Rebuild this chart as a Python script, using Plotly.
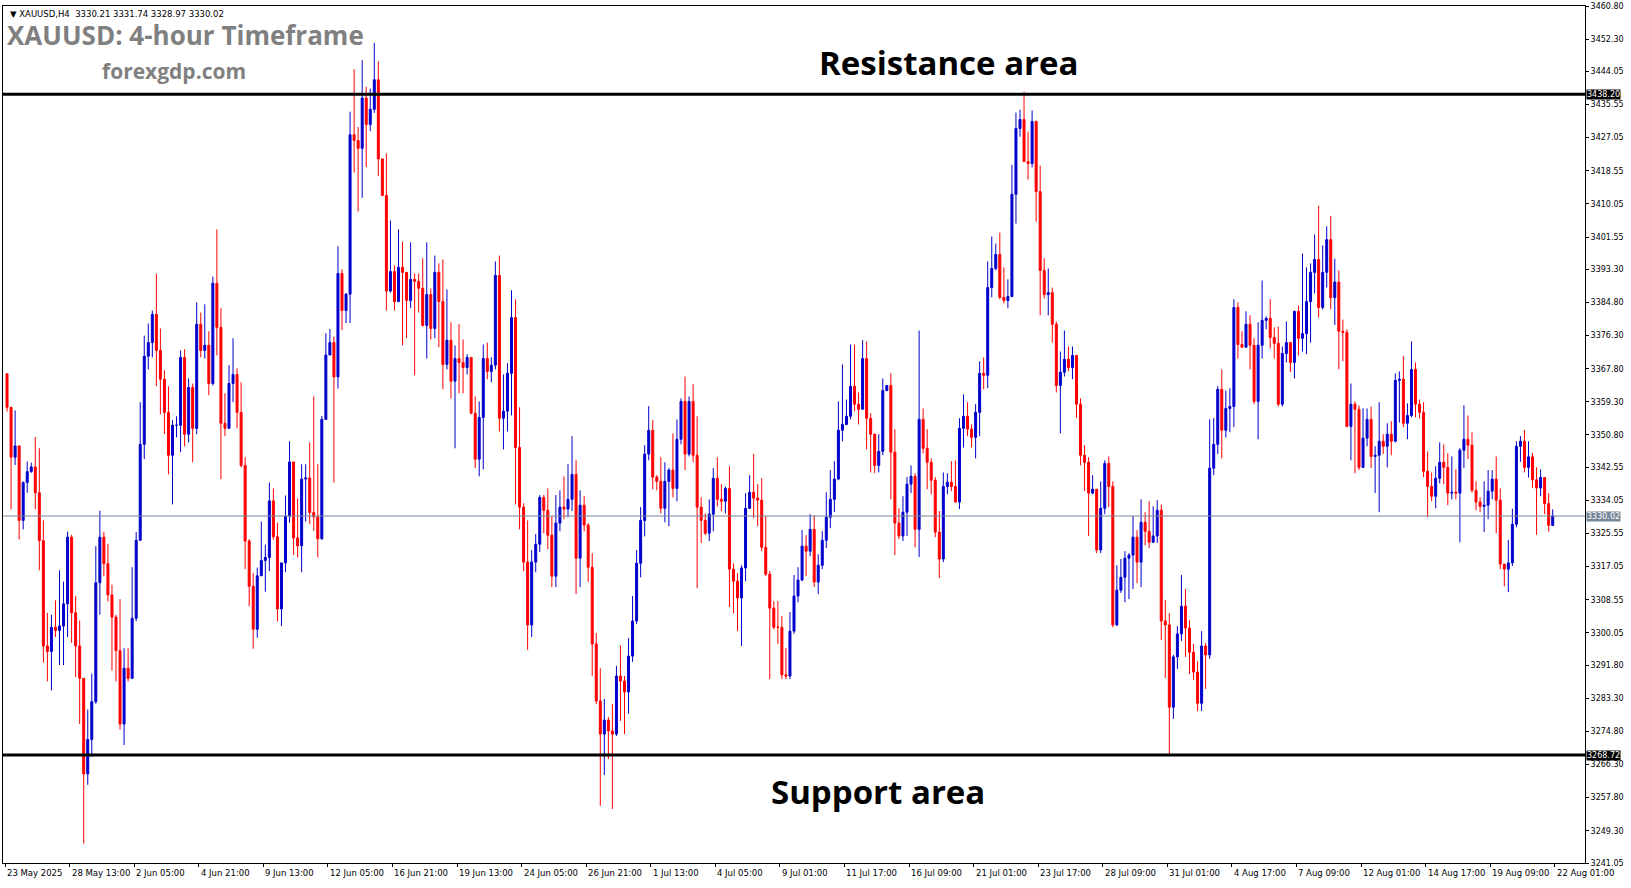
import plotly.graph_objects as go

first_open = 3366.5
close = [
3357.9,3345.1,3348.0,3328.9,3338.6,3341.4,3342.6,3336.0,3323.7,3296.7,3295.3,3301.5,3300.7,3301.8,3307.5,3324.6,
3305.2,3296.7,3288.4,3263.9,3272.7,3282.4,3312.9,3324.6,3317.8,3309.8,3304.1,3295.5,3276.7,3291.0,3288.4,
3303.8,3323.8,3348.4,3371.0,3374.5,3381.7,3372.5,3365.1,3356.6,3345.6,3353.3,3353.3,3370.7,3351.0,3363.0,3352.5,
3379.2,3372.5,3373.8,3364.0,3389.7,3378.4,3353.8,3352.5,3364.0,3366.3,3356.6,3343.0,3323.6,3312.0,3301.0,
3314.7,3318.6,3319.4,3333.9,3324.7,3306.2,3318.0,3330.0,3343.9,3324.4,3322.4,3339.5,3339.8,3330.9,3329.8,3324.2,
3354.8,3371.3,3374.5,3365.7,3392.2,3382.7,3386.9,3427.8,3426.3,3424.3,3437.2,3430.4,3434.3,3441.9,3421.6,3412.2,3387.7,
3392.7,3385.0,3393.8,3392.5,3385.3,3390.7,3390.2,3388.4,3378.9,3386.8,3378.1,3392.5,3385.0,3368.9,3375.1,3364.6,
3370.4,3369.4,3368.1,3370.7,3356.4,3344.6,3355.3,3370.4,3367.1,3368.7,3391.7,3355.1,3356.9,3366.6,3380.9,
3347.6,3332.3,3318.2,3302.1,3318.2,3322.8,3334.8,3331.5,3325.1,3314.6,3328.2,3332.3,3331.8,3334.3,3340.7,3319.2,
3332.8,3327.7,3316.9,3297.2,3282.6,3274.1,3277.7,3274.9,3274.1,3289.0,3287.7,3284.9,3294.1,
3303.1,3317.9,3328.9,3345.9,3352.0,3340.0,3338.9,3332.0,3338.9,3341.8,3337.1,3349.7,3359.4,3345.9,3359.4,3345.6,
3332.3,3328.9,3325.6,3330.5,3339.7,3334.3,3333.8,3337.1,3316.4,3313.3,3309.0,3316.7,3332.0,3336.1,3334.6,
3334.1,3322.0,3315.1,3306.4,3301.5,3301.5,3289.3,3289.0,3300.5,3309.5,3313.6,3322.3,3321.0,3326.6,3313.1,3317.4,
3323.8,3329.7,3334.3,3339.5,3352.0,3353.5,3355.6,3363.3,3358.7,3357.4,3370.4,3355.1,3351.0,3343.0,3346.6,3362.2,3363.5,
3346.4,3328.2,3324.9,3331.0,3338.2,3340.2,3326.6,3354.8,3347.4,3343.8,3339.2,3325.9,3319.0,3337.6,3338.7,3337.6,
3333.6,3352.5,3355.6,3352.3,3350.2,3356.6,3366.6,3366.1,3388.6,3393.5,3397.1,3386.1,3385.3,3386.3,3412.5,
3429.4,3431.7,3420.9,3420.4,3431.2,3413.2,3393.0,3386.8,3387.3,3379.2,
3363.5,3366.9,3370.2,3368.1,3371.2,3358.7,3345.6,3343.8,3335.9,3336.9,3321.3,3332.0,3343.5,3337.6,3302.1,3311.0,
3314.3,3319.2,3320.0,3324.6,3318.2,3328.4,
3326.1,3323.3,3324.9,3331.5,3303.1,3302.1,3281.0,3293.9,3299.8,3306.9,3301.3,3295.1,3290.0,3282.0,3296.7,3294.4,
3342.3,3348.4,3362.5,3352.0,3357.6,3358.1,3383.5,3374.0,3373.3,3379.2,3373.8,3359.4,3373.8,3380.2,3380.7,3375.8,
3374.3,3358.7,3371.7,3374.5,3369.4,3382.5,3375.6,3376.8,3385.0,3392.5,3395.8,3383.5,3392.5,3400.9,
3386.0,3390.0,3377.4,3377.1,3353.0,3358.7,3357.4,3342.5,3350.0,3354.8,3345.3,3345.6,3349.2,3347.9,3351.0,3349.2,
3364.8,3365.1,3353.8,3355.8,3367.6,3358.7,3356.6,3341.5,3337.6,3335.1,3339.7,3343.8,3342.5,3335.9,3336.1,3335.9,
3346.9,3349.7,3348.2,3336.6,3333.6,3332.5,3332.8,3336.4,3339.5,3334.1,3317.7,3316.4,
3318.0,3327.9,3347.9,3349.2,3342.5,3345.2,3339.3,3337.2,3339.9,3333.2,3327.6,3330.02,
]
high = [
3366.5,3356.5,3357.1,3348.0,3338.9,3344.0,3343.7,3350.3,3347.4,3328.9,3305.2,3304.7,3308.4,3316.1,3313.2,3326.0,
3325.2,3309.5,3303.2,3288.4,3280.4,3289.6,3322.3,3331.4,3326.0,3322.9,3312.4,3304.7,3308.7,3296.1,3296.1,
3316.9,3325.9,3359.2,3376.3,3379.4,3382.7,3392.2,3378.1,3367.4,3363.3,3354.6,3355.6,3372.5,3372.8,3365.3,3364.0,
3384.8,3382.2,3384.3,3377.4,3391.4,3403.5,3383.3,3361.5,3368.7,3375.6,3367.9,3364.3,3345.1,3324.1,3315.4,
3316.8,3328.6,3322.7,3338.6,3337.1,3328.3,3318.0,3335.3,3349.2,3343.9,3334.5,3343.3,3343.3,3348.9,3360.7,3343.3,
3355.7,3376.9,3378.0,3376.0,3399.2,3393.3,3387.2,3433.7,3444.6,3429.8,3446.9,3440.1,3439.6,3451.3,3446.6,3421.6,3423.0,
3405.8,3394.3,3403.5,3400.4,3392.5,3400.2,3392.2,3392.2,3396.1,3400.2,3388.4,3396.8,3394.8,3395.8,3388.1,3379.7,
3373.8,3379.2,3375.3,3371.5,3370.4,3360.7,3359.4,3374.0,3374.5,3370.7,3395.3,3396.8,3366.3,3369.2,3387.9,
3385.6,3357.9,3333.3,3328.9,3321.3,3325.4,3335.4,3335.4,3337.1,3330.0,3335.4,3336.6,3340.2,3343.3,3350.5,3344.3,
3336.6,3335.1,3328.2,3320.5,3300.0,3291.0,3283.1,3278.5,3281.8,3291.6,3296.9,3289.0,3298.7,
3309.5,3321.3,3332.3,3348.2,3358.2,3354.6,3340.5,3345.1,3343.8,3342.3,3351.2,3354.8,3360.2,3365.8,3360.7,3363.8,
3355.6,3334.8,3330.7,3334.3,3342.3,3345.1,3338.2,3337.6,3342.8,3317.9,3315.4,3317.4,3335.9,3340.5,3345.9,
3338.2,3339.7,3330.0,3315.9,3308.2,3308.2,3304.4,3296.2,3305.4,3314.9,3316.9,3326.4,3325.1,3330.5,3330.2,3320.2,
3326.1,3336.1,3341.8,3344.1,3359.4,3368.9,3359.9,3374.0,3374.0,3361.7,3375.1,3374.8,3356.4,3351.2,3351.0,3365.3,3363.5,
3366.6,3352.3,3332.0,3335.1,3340.0,3343.0,3341.0,3377.6,3357.6,3352.3,3344.8,3340.0,3331.3,3341.2,3341.0,3344.1,
3344.3,3355.1,3361.2,3359.2,3353.5,3358.7,3369.7,3370.7,3395.3,3401.7,3399.9,3402.7,3393.8,3390.7,3420.1,
3433.5,3434.2,3438.8,3428.6,3434.0,3431.4,3419.9,3396.1,3393.5,3388.6,
3379.9,3372.2,3377.6,3373.5,3373.5,3371.0,3360.2,3348.2,3345.1,3340.5,3336.9,3338.9,3344.3,3345.3,3338.9,3317.4,
3319.0,3321.0,3320.5,3330.0,3326.4,3334.3,
3331.0,3333.8,3332.5,3334.1,3333.0,3308.5,3305.1,3294.4,3301.8,3314.9,3311.3,3303.3,3297.2,3292.8,3300.5,3297.5,
3354.8,3355.1,3363.3,3367.6,3362.2,3362.8,3385.6,3384.8,3377.4,3382.5,3381.5,3375.6,3379.7,3390.4,3381.2,3385.6,
3378.4,3378.6,3373.5,3379.9,3374.5,3382.7,3384.0,3397.3,3393.8,3394.8,3402.2,3409.6,3399.4,3404.3,
3407.0,3396.0,3393.0,3380.4,3377.9,3364.0,3359.4,3358.4,3357.6,3357.6,3358.1,3347.9,3359.2,3351.0,3353.8,3354.3,
3366.6,3367.1,3371.0,3358.9,3374.8,3369.4,3359.9,3359.2,3346.6,3341.2,3342.8,3348.9,3348.4,3346.1,3345.3,3342.0,
3347.4,3358.4,3355.8,3351.5,3338.9,3334.8,3338.9,3341.8,3341.8,3345.3,3337.1,3317.7,
3323.9,3331.9,3349.2,3350.5,3352.1,3349.2,3346.2,3342.5,3342.0,3339.9,3335.9,3331.74,
]
low = [
3356.8,3331.7,3343.1,3324.0,3326.6,3336.0,3341.1,3331.7,3316.1,3292.4,3287.6,3285.3,3299.0,3291.8,3291.8,3299.0,
3297.5,3288.7,3276.7,3246.0,3261.1,3268.2,3281.9,3304.7,3314.6,3308.1,3290.4,3287.6,3275.3,3271.3,3287.6,
3295.9,3303.1,3323.8,3344.6,3367.6,3370.7,3363.3,3356.1,3351.0,3340.7,3333.0,3350.2,3346.4,3347.9,3348.9,3343.8,
3351.0,3370.7,3370.4,3361.0,3363.5,3371.2,3339.5,3350.5,3353.0,3359.2,3352.5,3342.5,3316.4,3306.9,3296.0,
3298.8,3314.7,3310.6,3315.9,3323.9,3303.0,3301.8,3315.6,3328.3,3320.0,3319.4,3315.6,3328.6,3328.0,3326.2,3319.4,
3323.9,3356.0,3371.6,3338.6,3362.7,3377.7,3379.5,3379.5,3418.1,3408.1,3411.6,3419.5,3428.7,3433.4,3417.2,3412.2,3382.7,
3387.3,3382.7,3385.6,3373.8,3375.6,3383.3,3366.1,3382.2,3378.6,3370.4,3375.3,3375.6,3373.3,3362.5,3367.6,3360.2,
3347.4,3361.5,3361.5,3366.3,3356.1,3342.3,3340.2,3342.0,3365.1,3364.3,3367.6,3351.7,3347.1,3351.7,3355.8,
3333.0,3326.6,3315.9,3295.7,3299.0,3315.6,3320.8,3325.6,3321.5,3311.8,3311.8,3326.1,3329.2,3329.7,3331.3,3310.0,
3311.8,3326.1,3313.1,3289.0,3281.8,3255.7,3263.6,3267.7,3254.9,3273.6,3277.5,3274.1,3279.3,
3292.6,3302.3,3314.3,3324.8,3344.3,3336.9,3336.6,3330.7,3328.4,3327.4,3334.8,3333.8,3348.4,3341.8,3345.3,3343.8,
3311.5,3323.1,3325.1,3323.6,3326.1,3332.5,3331.3,3330.7,3306.7,3305.1,3300.5,3296.7,3313.3,3331.8,3329.5,
3327.4,3321.0,3314.6,3288.2,3301.0,3297.2,3288.2,3288.2,3288.2,3299.8,3307.9,3313.3,3314.6,3319.7,3311.8,3310.0,
3316.4,3321.8,3326.9,3331.0,3339.2,3349.2,3353.3,3354.8,3356.9,3353.5,3357.4,3347.1,3341.2,3341.0,3341.2,3345.6,3362.0,
3334.3,3320.0,3324.1,3323.6,3324.9,3335.9,3322.0,3319.5,3346.1,3336.9,3335.6,3324.6,3314.1,3318.2,3335.6,3336.4,
3333.6,3331.8,3347.6,3350.5,3347.6,3344.8,3350.5,3362.5,3362.8,3386.1,3393.0,3385.6,3384.5,3383.3,3386.1,
3405.0,3427.3,3420.9,3416.3,3419.4,3405.5,3381.5,3385.8,3381.5,3374.5,
3361.7,3351.2,3365.8,3367.1,3365.1,3355.1,3343.0,3336.4,3324.9,3335.6,3320.5,3320.5,3330.5,3332.3,3301.5,3301.8,
3310.3,3307.9,3308.7,3311.3,3312.8,3311.8,
3322.5,3321.8,3323.1,3323.1,3298.2,3288.5,3268.7,3278.0,3290.8,3298.0,3293.9,3289.5,3288.0,3280.0,3280.0,3285.7,
3293.4,3340.5,3345.9,3344.8,3350.2,3351.5,3352.8,3370.4,3373.3,3374.0,3367.6,3358.7,3349.7,3370.4,3377.9,3373.0,
3370.4,3358.1,3358.1,3369.4,3366.9,3365.3,3371.2,3372.2,3371.5,3374.5,3387.1,3380.9,3383.0,3388.6,
3383.0,3379.0,3367.6,3369.7,3352.8,3344.3,3341.0,3341.8,3342.3,3347.9,3342.3,3335.9,3331.0,3345.9,3342.5,3345.6,
3348.9,3354.0,3352.8,3349.7,3355.3,3355.3,3355.0,3340.0,3329.7,3333.8,3332.0,3338.4,3338.2,3332.8,3334.3,3334.3,
3323.3,3342.3,3344.6,3336.0,3331.5,3331.0,3325.9,3329.2,3334.3,3325.6,3316.4,3312.0,
3310.5,3317.2,3327.1,3343.9,3341.2,3339.9,3337.2,3325.2,3335.1,3330.5,3326.0,3328.97,
]

date_labels = ["23 May 2025","28 May 13:00","2 Jun 05:00","4 Jun 21:00","9 Jun 13:00","12 Jun 05:00",
    "16 Jun 21:00","19 Jun 13:00","24 Jun 05:00","26 Jun 21:00","1 Jul 13:00","4 Jul 05:00","9 Jul 01:00",
    "11 Jul 17:00","16 Jul 09:00","21 Jul 01:00","23 Jul 17:00","28 Jul 09:00","31 Jul 01:00","4 Aug 17:00",
    "7 Aug 09:00","12 Aug 01:00","14 Aug 17:00","19 Aug 09:00","22 Aug 01:00"]
price_ticks = [3460.80,3452.30,3444.05,3435.55,3427.05,3418.55,3410.05,3401.55,3393.30,3384.80,3376.30,
    3367.80,3359.30,3350.80,3342.55,3334.05,3325.55,3317.05,3308.55,3300.05,3291.80,3283.30,3274.80,
    3266.30,3257.80,3249.30,3241.05]
resistance = 3438.20
support = 3268.72
last_price = 3330.02

n = len(close)
opens = [first_open] + close[:-1]
highs = [max(h, o, c) for h, o, c in zip(high[:n], opens, close)]
lows = [min(l, o, c) for l, o, c in zip(low[:n], opens, close)]
xs = list(range(n))

fig = go.Figure()
fig.add_trace(go.Candlestick(x=xs, open=opens, high=highs, low=lows, close=close,
    increasing=dict(line=dict(color="#0000CC", width=1), fillcolor="#0000CC"),
    decreasing=dict(line=dict(color="#FF0000", width=1), fillcolor="#FF0000"),
    whiskerwidth=0, showlegend=False, hoverinfo="skip"))

xmax = n - 1 + 8
fig.add_shape(type="line", xref="paper", x0=0, x1=1, y0=last_price, y1=last_price, line=dict(color="#778899", width=1))
for lvl in (resistance, support):
    fig.add_shape(type="line", xref="paper", x0=0, x1=1, y0=lvl, y1=lvl, line=dict(color="black", width=3))

ann = []
for i, t in enumerate(date_labels):
    ann.append(dict(x=16 * i - 0.5, y=0, xref="x", yref="paper", yanchor="top", xanchor="left", yshift=-3,
                    text=t, showarrow=False, font=dict(size=8.5, color="black", family="DejaVu Sans")))
for lvl, bg in ((resistance, "black"), (support, "black"), (last_price, "#778899")):
    ann.append(dict(x=1, xref="paper", y=lvl, yref="y", xanchor="left", xshift=1, text=f"{lvl:.2f}",
                    showarrow=False, bgcolor=bg, font=dict(size=8, color="white", family="DejaVu Sans"),
                    borderpad=0))
ann += [
    dict(x=0.003, y=1.0, xref="paper", yref="paper", xanchor="left", yanchor="top", yshift=-1,
         text="▼ XAUUSD,H4  3330.21 3331.74 3328.97 3330.02", showarrow=False,
         font=dict(size=8.5, color="black", family="DejaVu Sans")),
    dict(x=0.001, y=0.966, xref="paper", yref="paper", xanchor="left", yanchor="middle",
         text="<b>XAUUSD: 4-hour Timeframe</b>", showarrow=False,
         font=dict(size=26, color="#808080", family="Open Sans")),
    dict(x=0.108, y=0.924, xref="paper", yref="paper", xanchor="center", yanchor="middle",
         text="<b>forexgdp.com</b>", showarrow=False, font=dict(size=21, color="#808080", family="Open Sans")),
    dict(x=0.598, y=0.934, xref="paper", yref="paper", xanchor="center", yanchor="middle",
         text="<b>Resistance area</b>", showarrow=False, font=dict(size=33, color="black", family="Open Sans")),
    dict(x=0.553, y=0.083, xref="paper", yref="paper", xanchor="center", yanchor="middle",
         text="<b>Support area</b>", showarrow=False, font=dict(size=33, color="black", family="Open Sans")),
]

fig.update_layout(width=1631, height=888, margin=dict(l=3, r=46, t=6, b=25, autoexpand=False),
    paper_bgcolor="white", plot_bgcolor="white", annotations=ann,
    xaxis=dict(range=[-1, xmax], showgrid=False, zeroline=False, showticklabels=False,
               rangeslider=dict(visible=False), showline=True, linecolor="black", mirror=True,
               tickvals=[16 * i - 0.5 for i in range(len(date_labels))], ticks="outside", ticklen=3, tickcolor="black"),
    yaxis=dict(range=[3241.05, 3460.8], side="right", tickvals=price_ticks,
               ticktext=[f"{v:.2f}" for v in price_ticks], ticks="outside", ticklen=3, tickcolor="black",
               tickfont=dict(size=8, color="black", family="DejaVu Sans"), showgrid=False, zeroline=False,
               showline=True, linecolor="black", mirror=True))
fig.write_html("out.html", config={"displayModeBar": False},
               post_script="document.body.style.margin='0';document.body.style.overflow='hidden';")
